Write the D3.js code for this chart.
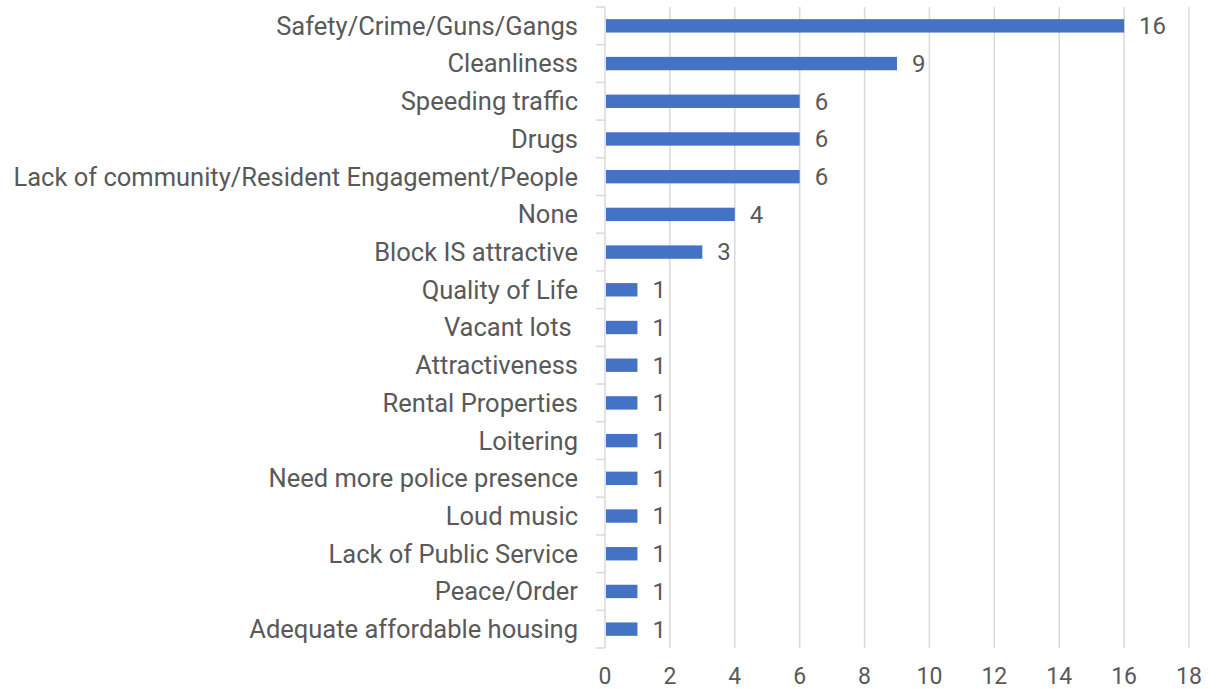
<!DOCTYPE html>
<html>
<head>
<meta charset="utf-8">
<script src="https://cdn.jsdelivr.net/npm/d3@7"></script>
<style>
  html, body { margin: 0; padding: 0; background: #ffffff; }
  svg { display: block; }
  text { font-family: "Roboto", "Liberation Sans", sans-serif; fill: #595959; }
</style>
</head>
<body>
<svg id="chart" width="1222" height="689"></svg>
<script>
// Responses by category
const categories = [
  "Safety/Crime/Guns/Gangs",
  "Cleanliness",
  "Speeding traffic",
  "Drugs",
  "Lack of community/Resident Engagement/People",
  "None",
  "Block IS attractive",
  "Quality of Life",
  "Vacant lots ",
  "Attractiveness",
  "Rental Properties",
  "Loitering",
  "Need more police presence",
  "Loud music",
  "Lack of Public Service",
  "Peace/Order",
  "Adequate affordable housing"
];
const counts = [16, 9, 6, 6, 6, 4, 3, 1, 1, 1, 1, 1, 1, 1, 1, 1, 1];
const xTicks = [0, 2, 4, 6, 8, 10, 12, 14, 16, 18];

const svg = d3.select("#chart");
const margin = { top: 7, right: 33, bottom: 41, left: 605 };
const width = 1222, height = 689;

const x = d3.scaleLinear()
  .domain([0, 18])
  .range([margin.left, width - margin.right]);

const y = d3.scaleBand()
  .domain(categories)
  .range([margin.top, height - margin.bottom])
  .paddingInner(0.645)
  .paddingOuter(0.3225);

// vertical gridlines
svg.append("g")
  .selectAll("line")
  .data(xTicks.filter(d => d > 0))
  .join("line")
  .attr("x1", d => x(d)).attr("x2", d => x(d))
  .attr("y1", margin.top).attr("y2", height - margin.bottom)
  .attr("stroke", "#d9d9d9")
  .attr("stroke-width", 1.5);

// x tick labels
svg.append("g")
  .selectAll("text")
  .data(xTicks)
  .join("text")
  .attr("x", d => x(d))
  .attr("y", height - margin.bottom + 28)
  .attr("dy", "0.35em")
  .attr("text-anchor", "middle")
  .style("font-size", "23px")
  .text(d => d);

// category axis line with boundary ticks
const step = y.step();
const boundaries = d3.range(categories.length + 1).map(i => margin.top + i * step);
svg.append("line")
  .attr("x1", x(0)).attr("x2", x(0))
  .attr("y1", margin.top).attr("y2", height - margin.bottom)
  .attr("stroke", "#d9d9d9").attr("stroke-width", 1.5);
svg.append("g")
  .selectAll("line")
  .data(boundaries)
  .join("line")
  .attr("x1", x(0) - 9).attr("x2", x(0))
  .attr("y1", d => d).attr("y2", d => d)
  .attr("stroke", "#d9d9d9").attr("stroke-width", 1.5);

// bars
svg.append("g")
  .selectAll("rect")
  .data(categories)
  .join("rect")
  .attr("x", x(0) + 1)
  .attr("y", d => y(d))
  .attr("width", (d, i) => x(counts[i]) - x(0) - 1)
  .attr("height", y.bandwidth())
  .attr("fill", "#4472c4");

// value labels
svg.append("g")
  .selectAll("text")
  .data(categories)
  .join("text")
  .attr("x", (d, i) => x(counts[i]) + 15)
  .attr("y", d => y(d) + y.bandwidth() / 2)
  .attr("dy", "0.35em")
  .style("font-size", "24px")
  .text((d, i) => counts[i]);

// category labels
svg.append("g")
  .selectAll("text")
  .data(categories)
  .join("text")
  .attr("x", margin.left - 27)
  .attr("y", d => y(d) + y.bandwidth() / 2)
  .attr("dy", "0.35em")
  .attr("text-anchor", "end")
  .style("font-size", "25.5px")
  .style("white-space", "pre")
  .text(d => d);
</script>
</body>
</html>
